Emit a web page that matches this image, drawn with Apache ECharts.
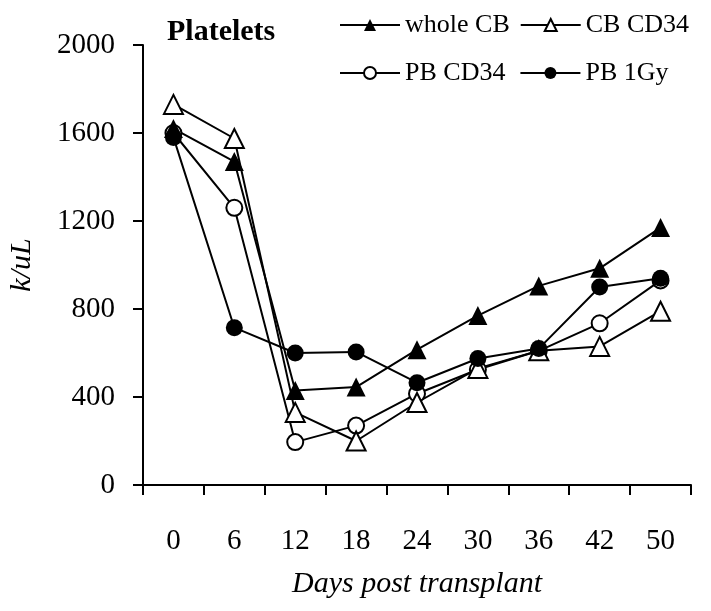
<!DOCTYPE html>
<html><head><meta charset="utf-8">
<script src="https://cdn.jsdelivr.net/npm/echarts@6/dist/echarts.min.js"></script>
<style>html,body{margin:0;padding:0;background:#fff}#c{width:711px;height:611px}</style>
</head><body><div id="c"></div>
<script>
var days = ['0','6','12','18','24','30','36','42','50'];
var wholeCB = [1620, 1470, 430, 445, 615, 770, 905, 985, 1170];
var cbCD34 = [1730, 1575, 330, 200, 375, 530, 610, 630, 790];
var pbCD34 = [1600, 1260, 195, 270, 415, 525, 610, 735, 930];
var pb1Gy = [1580, 715, 600, 605, 465, 575, 620, 900, 940];
var yTicks = [0, 400, 800, 1200, 1600, 2000];

var F = 'Liberation Serif';
function ser(name, data, symbol, filled, size) {
  return {
    name: name, type: 'line', data: data, symbol: symbol, symbolSize: size,
    lineStyle: {color: '#000', width: 2},
    itemStyle: {color: filled ? '#000' : '#fff', borderColor: '#000', borderWidth: filled ? 0 : 2},
    emphasis: {disabled: true}, animation: false
  };
}
var chart = echarts.init(document.getElementById('c'));
chart.setOption({
  animation: false,
  title: {text: 'Platelets', left: 162, top: 12, textStyle: {fontFamily: F, fontSize: 30, fontWeight: 'bold', color: '#000'}},
  legend: [
    {data: ['whole CB', 'CB CD34'], left: 334, top: 7, itemWidth: 60, itemHeight: 15, itemGap: 10,
     textStyle: {fontFamily: F, fontSize: 26, color: '#000'}},
    {data: ['PB CD34', 'PB 1Gy'], left: 334, top: 55, itemWidth: 60, itemHeight: 15, itemGap: 14,
     textStyle: {fontFamily: F, fontSize: 26, color: '#000'}}
  ],
  grid: {left: 143, right: 20, top: 45, bottom: 126, containLabel: false, outerBoundsMode: 'none'},
  xAxis: {
    type: 'category', data: days, boundaryGap: true,
    name: 'Days post transplant', nameLocation: 'middle', nameGap: 84,
    nameTextStyle: {fontFamily: F, fontSize: 30, fontStyle: 'italic', color: '#000'},
    axisLine: {lineStyle: {color: '#000', width: 2}},
    axisTick: {show: true, length: 10, lineStyle: {color: '#000', width: 2}, alignWithLabel: false},
    axisLabel: {fontFamily: F, fontSize: 29, color: '#000', margin: 42},
    splitLine: {show: false}
  },
  yAxis: {
    type: 'value', min: yTicks[0], max: yTicks[yTicks.length - 1], interval: 400,
    name: 'k/uL', nameLocation: 'middle', nameGap: 106, nameRotate: 90,
    nameTextStyle: {fontFamily: F, fontSize: 30, fontStyle: 'italic', color: '#000'},
    axisLine: {show: true, lineStyle: {color: '#000', width: 2}},
    axisTick: {show: true, length: 10, lineStyle: {color: '#000', width: 2}},
    axisLabel: {fontFamily: F, fontSize: 29, color: '#000', margin: 28, formatter: function (v) { return String(v); }},
    splitLine: {show: false}
  },
  series: [
    ser('PB CD34', pbCD34, 'circle', false, 16),
    ser('CB CD34', cbCD34, 'triangle', false, 19),
    ser('whole CB', wholeCB, 'triangle', true, 19),
    ser('PB 1Gy', pb1Gy, 'circle', true, 17)
  ]
});
</script></body></html>
